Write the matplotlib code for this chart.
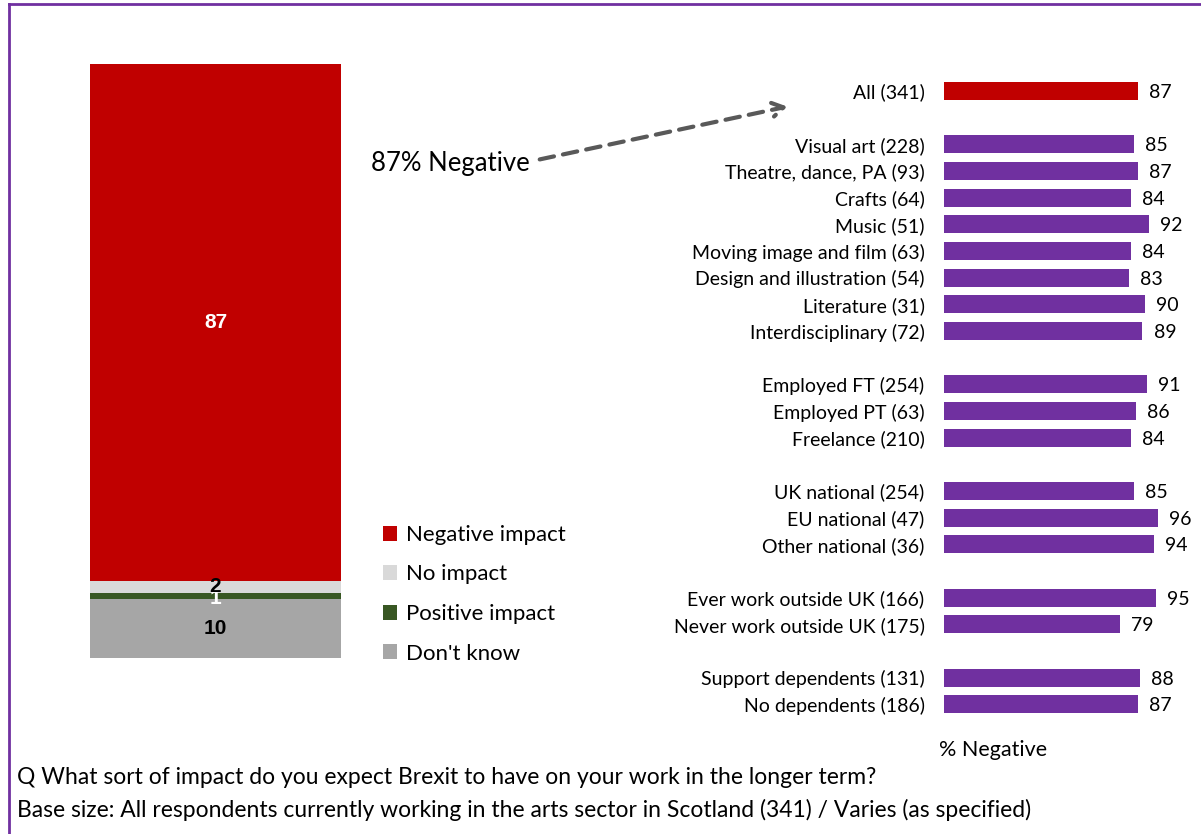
import matplotlib
matplotlib.use("Agg")
import matplotlib.pyplot as plt
from matplotlib.lines import Line2D
from matplotlib.patches import FancyArrowPatch

plt.rcParams['font.family'] = ['Lato', 'DejaVu Sans']

# ---- data ----
stack_labels = ["Don't know", "Positive impact", "No impact", "Negative impact"]
stack_values = [10, 1, 2, 87]
stack_colors = ["#A6A6A6", "#385723", "#D9D9D9", "#C00000"]
stack_text_colors = ["black", "white", "black", "white"]

categories = ["All (341)", "Visual art (228)", "Theatre, dance, PA (93)", "Crafts (64)",
              "Music (51)", "Moving image and film (63)", "Design and illustration (54)",
              "Literature (31)", "Interdisciplinary (72)", "Employed FT (254)",
              "Employed PT (63)", "Freelance (210)", "UK national (254)", "EU national (47)",
              "Other national (36)", "Ever work outside UK (166)", "Never work outside UK (175)",
              "Support dependents (131)", "No dependents (186)"]
negative_pct = [87, 85, 87, 84, 92, 84, 83, 90, 89, 91, 86, 84, 85, 96, 94, 95, 79, 88, 87]
# row slots (blank slots separate groups)
slots = [0, 2, 3, 4, 5, 6, 7, 8, 9, 11, 12, 13, 15, 16, 17, 19, 20, 22, 23]

W, H = 1201, 834
fig = plt.figure(figsize=(W / 100, H / 100), dpi=100)

def fx(px):
    return px / W

def fy(py):
    return 1 - py / H

# ---- border ----
purple = "#7030A0"
fig.add_artist(Line2D([fx(9), fx(9)], [fy(4), 0], color=purple, lw=2, transform=fig.transFigure))
fig.add_artist(Line2D([fx(9), 1], [fy(4), fy(4)], color=purple, lw=2, transform=fig.transFigure))

# ---- left stacked bar ----
axL = fig.add_axes([fx(90), fy(658), fx(341) - fx(90), fy(64) - fy(658)])
bottom = 0
handles = []
for lab, v, c, tc in zip(stack_labels, stack_values, stack_colors, stack_text_colors):
    b = axL.bar(0, v, bottom=bottom, width=1.0, color=c, label=lab)
    handles.append(b)
    yc = bottom + v / 2
    if lab == "Positive impact":
        yc -= 0.4
    axL.text(0, yc, str(v), ha='center', va='center', color=tc, fontsize=15,
             fontweight='bold', family=['Liberation Sans', 'DejaVu Sans'])
    bottom += v
axL.set_xlim(-0.5, 0.5)
axL.set_ylim(0, 100)
axL.axis('off')

# legend
fig.legend(handles[::-1], stack_labels[::-1], loc='upper left',
           bbox_to_anchor=(fx(374), fy(516)), frameon=False, fontsize=16,
           handlelength=0.65, handleheight=0.65, handletextpad=0.4, labelspacing=0.88,
           borderaxespad=0)

# ---- right bar chart ----
row_h = (704.4 - 91) / 23
axR = fig.add_axes([fx(944), fy(704.4 + row_h / 2), fx(944 + 223) - fx(944),
                    fy(91 - row_h / 2) - fy(704.4 + row_h / 2)])
colors = ["#C00000"] + [purple] * (len(categories) - 1)
axR.barh(slots, negative_pct, height=0.68, color=colors)
for s, v in zip(slots, negative_pct):
    axR.annotate(str(v), (v, s), xytext=(8, -1), textcoords='offset points',
                 ha='left', va='center', fontsize=14)
axR.set_xlim(0, 100)
axR.set_ylim(23.5, -0.5)
axR.set_yticks(slots)
axR.set_yticklabels(categories, fontsize=14)
axR.tick_params(axis='y', length=0, pad=14)
axR.set_xticks([])
for sp in axR.spines.values():
    sp.set_visible(False)

fig.text(fx(939), fy(750), "% Negative", ha='left', va='center', fontsize=15.5)

# ---- annotation ----
fig.text(fx(371), fy(164), "87% Negative", ha='left', va='center', fontsize=18.5)
fig.patches.append(FancyArrowPatch(
    (fx(537), fy(160)), (fx(790), fy(106)), transform=fig.transFigure,
    arrowstyle='->,head_length=8,head_width=5', color='#595959', lw=3,
    linestyle=(0, (3.5, 2.2)), mutation_scale=1))

# ---- footer ----
fig.text(fx(17), fy(778), "Q What sort of impact do you expect Brexit to have on your work in the longer term?",
         ha='left', va='center', fontsize=16.5)
fig.text(fx(17), fy(810), "Base size: All respondents currently working in the arts sector in Scotland (341) / Varies (as specified)",
         ha='left', va='center', fontsize=16.5)

fig.savefig("out.png", dpi=100)
